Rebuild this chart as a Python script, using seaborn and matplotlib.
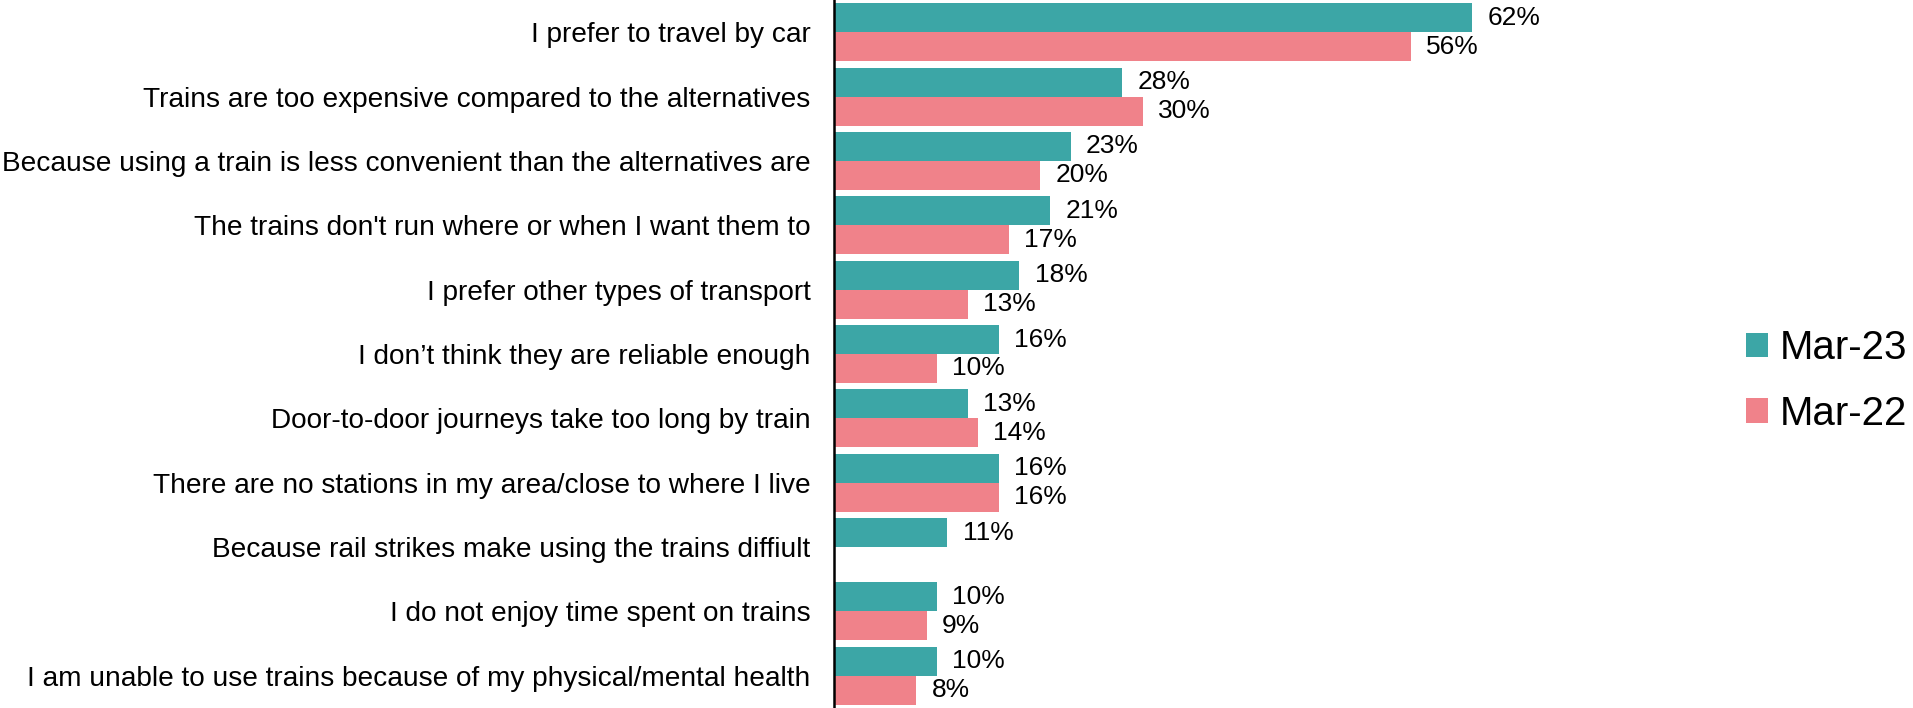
import pandas as pd
import seaborn as sns
import matplotlib.pyplot as plt

reasons = [
    "I prefer to travel by car",
    "Trains are too expensive compared to the alternatives",
    "Because using a train is less convenient than the alternatives are",
    "The trains don't run where or when I want them to",
    "I prefer other types of transport",
    "I don\u2019t think they are reliable enough",
    "Door-to-door journeys take too long by train",
    "There are no stations in my area/close to where I live",
    "Because rail strikes make using the trains diffiult",
    "I do not enjoy time spent on trains",
    "I am unable to use trains because of my physical/mental health",
]
mar23 = [62, 28, 23, 21, 18, 16, 13, 16, 11, 10, 10]
mar22 = [56, 30, 20, 17, 13, 10, 14, 16, None, 9, 8]
periods = ["Mar-23", "Mar-22"]
colors = ["#3CA6A6", "#F0828A"]

df = pd.DataFrame({
    "reason": reasons * 2,
    "period": [periods[0]] * len(reasons) + [periods[1]] * len(reasons),
    "value": mar23 + mar22,
}).dropna()

sns.set_style("white")
plt.rcParams['font.family'] = ['Liberation Sans', 'DejaVu Sans']
plt.rcParams['text.color'] = 'black'
plt.rcParams['ytick.color'] = 'black'

fig = plt.figure(figsize=(19.13, 7.08), dpi=100)
ax = fig.add_axes([834 / 1913, 0.0, (1600 - 834) / 1913, 1.0])

sns.barplot(data=df, x="value", y="reason", hue="period", order=reasons,
            hue_order=periods, palette=colors, saturation=1, orient="h",
            width=0.9, linewidth=0, ax=ax)

# percent labels next to each bar
for c in ax.containers:
    ax.bar_label(c, fmt=lambda v: f"{v:.0f}%", padding=11, fontsize=19)

ax.set_xlim(0, 74.4)
ax.set_ylim(10.5, -0.5)
ax.set_xlabel("")
ax.set_ylabel("")
ax.set_xticks([])
ax.tick_params(axis='y', length=0, pad=17, labelsize=20.2)
for s in ["top", "right", "bottom"]:
    ax.spines[s].set_visible(False)
ax.spines["left"].set_color("black")
ax.spines["left"].set_linewidth(1.8)

ax.legend(loc="center left", bbox_to_anchor=(1746 / 1913, 1 - 381 / 708),
          bbox_transform=fig.transFigure, frameon=False, fontsize=29,
          handlelength=0.55, handleheight=0.55, handletextpad=0.3,
          labelspacing=0.68, borderpad=0, borderaxespad=0)

fig.savefig("out.png", dpi=100)
